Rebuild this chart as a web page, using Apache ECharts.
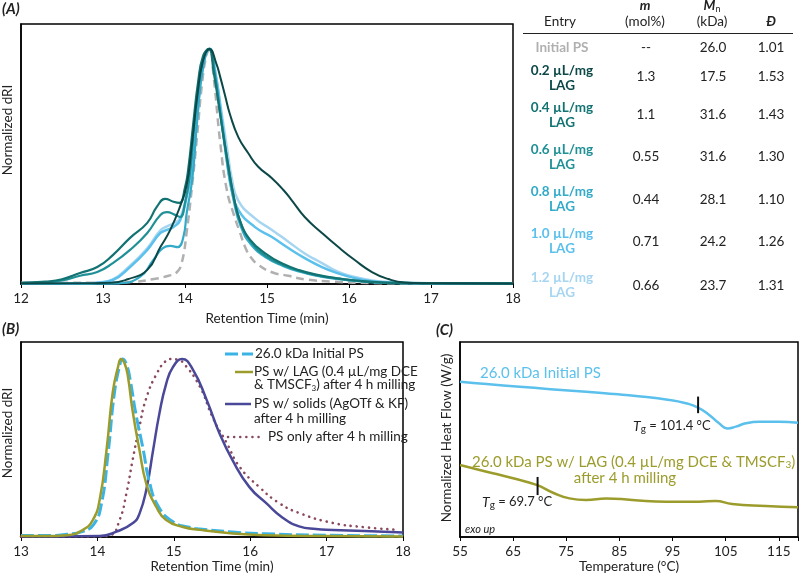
<!DOCTYPE html>
<html><head><meta charset="utf-8">
<script src="https://cdn.jsdelivr.net/npm/echarts@6/dist/echarts.min.js"></script>
<style>html,body{margin:0;padding:0;background:#fff}#c{width:801px;height:576px}</style>
</head><body><div id="c"></div>
<script>
// ---------- Panel A: GPC traces (retention time, normalized dRI) ----------
const aInitialPS = [[12,0.005],[12.5,0.005],[13,0.006],[13.4,0.01],[13.6,0.02],[13.8,0.035],[13.9,0.05],[13.96,0.09],[14.02,0.22],[14.09,0.43],[14.15,0.64],[14.21,0.86],[14.26,0.97],[14.3,1.0],[14.35,0.88],[14.43,0.6],[14.51,0.4],[14.6,0.29],[14.67,0.22],[14.73,0.16],[14.8,0.115],[14.9,0.08],[15.06,0.05],[15.26,0.035],[15.46,0.02],[15.8,0.01],[16.3,0.004],[17,0.002],[18,0.001]];
const aLAG02 = [[12,0.002],[12.8,0.003],[13.1,0.005],[13.3,0.02],[13.54,0.06],[13.7,0.157],[13.82,0.23],[13.94,0.33],[14.02,0.42],[14.08,0.58],[14.15,0.8],[14.22,0.95],[14.3,1.0],[14.38,0.94],[14.43,0.88],[14.49,0.8],[14.55,0.72],[14.65,0.625],[14.77,0.557],[14.89,0.5],[15.06,0.45],[15.2,0.4],[15.3,0.357],[15.46,0.285],[15.67,0.217],[15.87,0.157],[16.07,0.102],[16.28,0.051],[16.48,0.021],[16.68,0.006],[16.9,0.003],[18,0.002]];
const aLAG04 = [[12,0.005],[12.3,0.01],[12.5,0.02],[12.72,0.047],[12.93,0.072],[13.12,0.123],[13.33,0.196],[13.54,0.26],[13.66,0.33],[13.76,0.362],[13.86,0.35],[13.93,0.345],[14.0,0.41],[14.04,0.49],[14.1,0.68],[14.16,0.86],[14.22,0.97],[14.29,1.0],[14.35,0.9],[14.43,0.72],[14.51,0.54],[14.59,0.38],[14.67,0.27],[14.79,0.19],[15.0,0.125],[15.2,0.085],[15.4,0.058],[15.6,0.04],[15.87,0.024],[16.2,0.011],[16.6,0.004],[18,0.002]];
const aLAG06 = [[12,0.004],[12.3,0.008],[12.5,0.015],[12.72,0.035],[12.93,0.051],[13.12,0.089],[13.33,0.145],[13.54,0.217],[13.7,0.294],[13.78,0.306],[13.88,0.294],[13.94,0.285],[14.0,0.345],[14.06,0.47],[14.12,0.7],[14.18,0.88],[14.24,0.98],[14.3,1.0],[14.36,0.9],[14.44,0.7],[14.52,0.52],[14.6,0.36],[14.68,0.26],[14.8,0.18],[15.0,0.115],[15.2,0.08],[15.4,0.055],[15.6,0.038],[15.8,0.026],[16.1,0.013],[16.5,0.005],[18,0.002]];
const aLAG08 = [[12,0.001],[13,0.001],[13.2,0.003],[13.45,0.03],[13.61,0.1],[13.73,0.153],[13.82,0.162],[13.91,0.157],[13.98,0.2],[14.02,0.3],[14.09,0.45],[14.15,0.7],[14.22,0.92],[14.3,1.0],[14.36,0.9],[14.44,0.7],[14.52,0.5],[14.6,0.345],[14.68,0.245],[14.8,0.17],[15.0,0.11],[15.2,0.076],[15.4,0.052],[15.6,0.035],[15.8,0.024],[16.1,0.012],[16.5,0.004],[18,0.002]];
const aLAG10 = [[12,0.001],[12.8,0.002],[12.93,0.005],[13.12,0.017],[13.33,0.072],[13.54,0.145],[13.7,0.217],[13.78,0.23],[13.86,0.243],[13.94,0.27],[14.02,0.37],[14.09,0.5],[14.15,0.72],[14.22,0.93],[14.3,1.0],[14.37,0.9],[14.45,0.7],[14.52,0.5],[14.57,0.4],[14.65,0.315],[14.85,0.243],[15.06,0.2],[15.26,0.153],[15.46,0.11],[15.67,0.072],[15.87,0.045],[16.07,0.025],[16.28,0.012],[16.5,0.006],[17,0.002],[18,0.001]];
const aLAG12 = [[12,0.001],[12.8,0.002],[12.93,0.006],[13.12,0.02],[13.33,0.078],[13.54,0.152],[13.7,0.228],[13.78,0.245],[13.86,0.258],[13.94,0.28],[14.02,0.38],[14.09,0.5],[14.15,0.72],[14.22,0.93],[14.3,1.0],[14.37,0.9],[14.45,0.72],[14.52,0.56],[14.57,0.45],[14.65,0.355],[14.85,0.28],[15.06,0.23],[15.26,0.18],[15.46,0.13],[15.67,0.089],[15.87,0.051],[16.07,0.03],[16.28,0.015],[16.48,0.008],[17,0.003],[18,0.001]];

// ---------- Panel A table ----------
const tableEntries = ['Initial PS','0.2 µL/mg\nLAG','0.4 µL/mg\nLAG','0.6 µL/mg\nLAG','0.8 µL/mg\nLAG','1.0 µL/mg\nLAG','1.2 µL/mg\nLAG'];
const tableM = ['--','1.3','1.1','0.55','0.44','0.71','0.66'];
const tableMn = ['26.0','17.5','31.6','31.6','28.1','24.2','23.7'];
const tableD = ['1.01','1.53','1.43','1.30','1.10','1.26','1.31'];

// ---------- Panel B: GPC traces ----------
const bInitialPS = [[13,0.008],[13.4,0.008],[13.6,0.015],[13.8,0.03],[13.95,0.07],[14.05,0.18],[14.14,0.47],[14.22,0.8],[14.29,0.96],[14.33,1.0],[14.38,0.97],[14.43,0.88],[14.5,0.7],[14.6,0.49],[14.68,0.31],[14.8,0.17],[14.99,0.085],[15.2,0.055],[15.34,0.045],[15.77,0.028],[16.2,0.018],[17,0.01],[18,0.006]];
const bLAG = [[13,0.005],[13.3,0.005],[13.6,0.01],[13.81,0.04],[13.94,0.095],[14.03,0.21],[14.12,0.49],[14.2,0.81],[14.27,0.955],[14.31,1.0],[14.36,0.97],[14.4,0.9],[14.46,0.71],[14.55,0.49],[14.64,0.3],[14.77,0.17],[14.9,0.095],[15.12,0.056],[15.34,0.04],[15.77,0.02],[16.2,0.01],[17,0.005],[18,0.003]];
const bSolids = [[13,0.003],[13.5,0.003],[14.03,0.005],[14.25,0.03],[14.47,0.08],[14.55,0.13],[14.64,0.265],[14.73,0.49],[14.81,0.69],[14.9,0.86],[14.99,0.955],[15.11,1.0],[15.25,0.94],[15.43,0.77],[15.6,0.58],[15.77,0.43],[15.99,0.28],[16.21,0.19],[16.42,0.11],[16.64,0.06],[16.86,0.045],[17.08,0.04],[17.5,0.033],[18,0.025]];
const bPSonly = [[13,0.003],[14.0,0.003],[14.17,0.01],[14.29,0.095],[14.38,0.245],[14.46,0.43],[14.55,0.62],[14.64,0.78],[14.78,0.92],[14.9,0.99],[14.97,1.0],[15.05,0.995],[15.12,0.98],[15.34,0.845],[15.51,0.67],[15.69,0.53],[15.86,0.395],[16.12,0.28],[16.38,0.19],[16.64,0.135],[17.07,0.08],[17.5,0.055],[17.95,0.04]];
const bLegend = ['26.0 kDa Initial PS','PS w/ LAG (0.4 µL/mg DCE','PS w/ solids (AgOTf & KF)','PS only after 4 h milling'];

// ---------- Panel C: DSC traces ----------
const cInitialPS = [[55,79.6],[60,78.4],[66.25,77.1],[72,75.8],[78.75,74.5],[84,73.3],[88.1,72.3],[94.4,70.3],[97.5,68.6],[99.7,66.5],[101.9,62.6],[103.75,58.3],[105.3,55.7],[106.9,56.6],[108.75,58.3],[111.25,59.1],[115,59.1],[118.6,58.6]];
const cLAG = [[55,36.9],[60,33.5],[65,30.1],[69.4,26.7],[72.5,22.7],[75.6,19.8],[78.75,19.0],[82.5,19.8],[87.4,19.0],[93.8,18.1],[100,18.1],[103.1,18.5],[106.2,16.9],[112.5,15.9],[118.6,15.2]];
const cTgInitial = [[99.8,72],[99.8,63.5]];
const cTgLAG = [[69.6,30.8],[69.6,21.5]];

// ---------------------------------------------------------------------------
const FONT = 'Lato, "Noto Sans", sans-serif';
const colorsA = ['#b0b0b0','#0c4848','#137373','#1f9096','#33aac8','#5bc0ec','#a6d5f1'];

function lineSeries(data, xi, color, width, type, z, extra) {
  return Object.assign({
    type: 'line', xAxisIndex: xi, yAxisIndex: xi, data: data,
    showSymbol: false, symbol: 'none', smooth: 0.5,
    lineStyle: { color: color, width: width, type: type || 'solid', join: 'round' },
    z: z || 2, animation: false, silent: true
  }, extra || {});
}

function xAxisCfg(gi, min, max, interval, fmt) {
  return {
    gridIndex: gi, type: 'value', min: min, max: max, interval: interval,
    axisLine: { show: true, onZero: false, lineStyle: { color: '#000', width: 1.5 } },
    axisTick: { show: true, length: 4, lineStyle: { color: '#000', width: 1 } },
    axisLabel: { color: '#222', fontFamily: FONT, fontSize: 13.5, margin: 8, formatter: fmt },
    splitLine: { show: false }
  };
}
function yAxisCfg(gi, min, max) {
  return {
    gridIndex: gi, type: 'value', min: min, max: max,
    axisLine: { show: true, lineStyle: { color: '#000', width: 1.5 } },
    axisTick: { show: false }, axisLabel: { show: false }, splitLine: { show: false }
  };
}

const g = [];
function txt(x, y, text, opts) {
  opts = opts || {};
  g.push({
    type: 'text', x: x, y: y, rotation: opts.rot || 0, z: 100, silent: true,
    style: {
      text: text, fill: opts.fill || '#222',
      font: (opts.style || '') + ' ' + (opts.weight || 'normal') + ' ' + (opts.size || 13) + 'px ' + FONT,
      textAlign: opts.align || 'left', textVerticalAlign: 'middle',
      lineHeight: opts.lh, rich: opts.rich
    }
  });
}
function seg(x1, y1, x2, y2, stroke, width, dash, cap) {
  g.push({ type: 'line', z: 100, silent: true, shape: { x1, y1, x2, y2 },
    style: { stroke, lineWidth: width, lineDash: dash || null, lineCap: cap || 'butt' } });
}

// panel letters
txt(2, 9, '(A)', { style: 'italic', weight: 'bold', size: 15 });
txt(2, 329, '(B)', { style: 'italic', weight: 'bold', size: 15 });
txt(436, 330, '(C)', { style: 'italic', weight: 'bold', size: 15 });

// axis titles
txt(267, 319, 'Retention Time (min)', { align: 'center', size: 13.5 });
txt(8, 130, 'Normalized dRI', { align: 'center', rot: Math.PI / 2, size: 13.5 });
txt(212, 567, 'Retention Time (min)', { align: 'center', size: 13.5 });
txt(8, 433, 'Normalized dRI', { align: 'center', rot: Math.PI / 2, size: 13.5 });
txt(629, 567, 'Temperature (°C)', { align: 'center', size: 13.5 });
txt(447, 438, 'Normalized Heat Flow (W/g)', { align: 'center', rot: Math.PI / 2, size: 13.5 });

// table header
const subRich = {
  bi: { fontFamily: FONT, fontSize: 13.5, fontWeight: 'bold', fontStyle: 'italic', lineHeight: 16, fill: '#222' },
  s: { fontFamily: FONT, fontSize: 9, lineHeight: 8, verticalAlign: 'bottom', fill: '#222' }
};
txt(560, 22, 'Entry', { align: 'center', size: 13.5 });
txt(645, 6, 'm', { align: 'center', style: 'italic', weight: 'bold', size: 13.5 });
txt(645, 22, '(mol%)', { align: 'center', size: 13.5 });
txt(712, 6, '{bi|M}{s|n}', { align: 'center', rich: subRich });
txt(712, 22, '(kDa)', { align: 'center', size: 13.5 });
txt(771, 22, 'Đ', { align: 'center', style: 'italic', weight: 'bold', size: 13.5 });
seg(523, 33.5, 793, 33.5, '#222', 1);

const rowY = [48, 78.5, 115.5, 157.5, 199.5, 241.5, 285.5];
const valY = [48, 77, 115, 157, 200, 242, 286];
for (let i = 0; i < tableEntries.length; i++) {
  txt(562, rowY[i], tableEntries[i], { align: 'center', weight: 'bold', fill: colorsA[i], lh: 15, size: 13.5 });
  txt(646, valY[i], tableM[i], { align: 'center', size: 13.5 });
  txt(713, valY[i], tableMn[i], { align: 'center', size: 13.5 });
  txt(771, valY[i], tableD[i], { align: 'center', size: 13.5 });
}

// panel B legend
const colorsB = ['#3bb4e5', '#9c9c2c', '#4a4898', '#8a4a5c'];
const LS = 13.5;
seg(225, 354, 253, 354, colorsB[0], 3, [13, 4]);
txt(255, 354, bLegend[0], { size: LS });
seg(235, 372, 253, 372, colorsB[1], 2.5);
txt(254, 372, bLegend[1], { size: LS });
txt(254, 385, '& TMSCF{s|3}) after 4 h milling', { size: LS, rich: {
  s: { fontFamily: FONT, fontSize: 8, lineHeight: 8, verticalAlign: 'bottom', fill: '#222' } } });
seg(225, 404, 251, 404, colorsB[2], 2.5);
txt(254, 404, bLegend[2], { size: LS });
txt(254, 419, 'after 4 h milling', { size: LS });
seg(228, 437, 264, 437, colorsB[3], 2.5, [0.1, 6], 'round');
txt(268, 437, bLegend[3], { size: LS });

// panel C labels
const cBlue = '#5bc0ec', cOlive = '#9c9c2c';
txt(480, 373, '26.0 kDa Initial PS', { size: 15, fill: cBlue });
txt(472, 462, '26.0 kDa PS w/ LAG (0.4 µL/mg DCE & TMSCF{s|3})', { size: 15, fill: cOlive, rich: {
  s: { fontFamily: FONT, fontSize: 10, lineHeight: 10, verticalAlign: 'bottom', fill: cOlive } } });
txt(625, 478, 'after 4 h milling', { size: 15, fill: cOlive, align: 'center' });
const tgRich = {
  i: { fontFamily: FONT, fontSize: 14, fontStyle: 'italic', lineHeight: 16, fill: '#222' },
  s: { fontFamily: FONT, fontSize: 10, lineHeight: 8, verticalAlign: 'bottom', fill: '#222' }
};
txt(633, 426, '{i|T}{s|g} = 101.4 °C', { rich: tgRich });
txt(482, 502, '{i|T}{s|g} = 69.7 °C', { rich: tgRich });
txt(465, 529, 'exo up', { style: 'italic', size: 11 });

const option = {
  backgroundColor: '#fff',
  animation: false,
  textStyle: { fontFamily: FONT },
  grid: [
    { left: 21, top: 24, width: 492, height: 260, show: true, borderColor: '#000', borderWidth: 1.5, backgroundColor: 'transparent' },
    { left: 21, top: 342, width: 382, height: 195, show: true, borderColor: '#000', borderWidth: 1.5, backgroundColor: 'transparent' },
    { left: 460, top: 342, width: 340, height: 195, show: true, borderColor: '#000', borderWidth: 1.5, backgroundColor: 'transparent' }
  ],
  xAxis: [
    xAxisCfg(0, 12, 18, 1),
    xAxisCfg(1, 13, 18, 1),
    xAxisCfg(2, 55, 118.6, 10, function (v) { return Math.abs((v - 55) % 10) < 1e-6 ? String(Math.round(v)) : ''; })
  ],
  yAxis: [yAxisCfg(0, 0, 1.106), yAxisCfg(1, 0, 1.095), yAxisCfg(2, 0, 100)],
  series: [
    lineSeries(aInitialPS, 0, colorsA[0], 2.5, [8, 5], 2),
    lineSeries(aLAG12, 0, colorsA[6], 2.5, 'solid', 3),
    lineSeries(aLAG10, 0, colorsA[5], 2.5, 'solid', 4),
    lineSeries(aLAG08, 0, colorsA[4], 2.2, 'solid', 5),
    lineSeries(aLAG06, 0, colorsA[3], 2.2, 'solid', 6),
    lineSeries(aLAG04, 0, colorsA[2], 2.2, 'solid', 7),
    lineSeries(aLAG02, 0, colorsA[1], 2, 'solid', 8),

    lineSeries(bPSonly, 1, colorsB[3], 2.5, [0.1, 6], 2, { lineStyle: { color: colorsB[3], width: 2.6, type: [0.1, 6], cap: 'round' } }),
    lineSeries(bSolids, 1, colorsB[2], 2.5, 'solid', 3),
    lineSeries(bInitialPS, 1, colorsB[0], 3, [13, 4], 4),
    lineSeries(bLAG, 1, colorsB[1], 2.5, 'solid', 5),

    lineSeries(cInitialPS, 2, cBlue, 2.5, 'solid', 3),
    lineSeries(cLAG, 2, cOlive, 2.5, 'solid', 3),
    lineSeries(cTgInitial, 2, '#111', 2, 'solid', 6, { smooth: false }),
    lineSeries(cTgLAG, 2, '#111', 2, 'solid', 6, { smooth: false })
  ],
  graphic: g
};

const chart = echarts.init(document.getElementById('c'), null, { renderer: 'canvas', width: 801, height: 576 });
chart.setOption(option);
</script></body></html>
